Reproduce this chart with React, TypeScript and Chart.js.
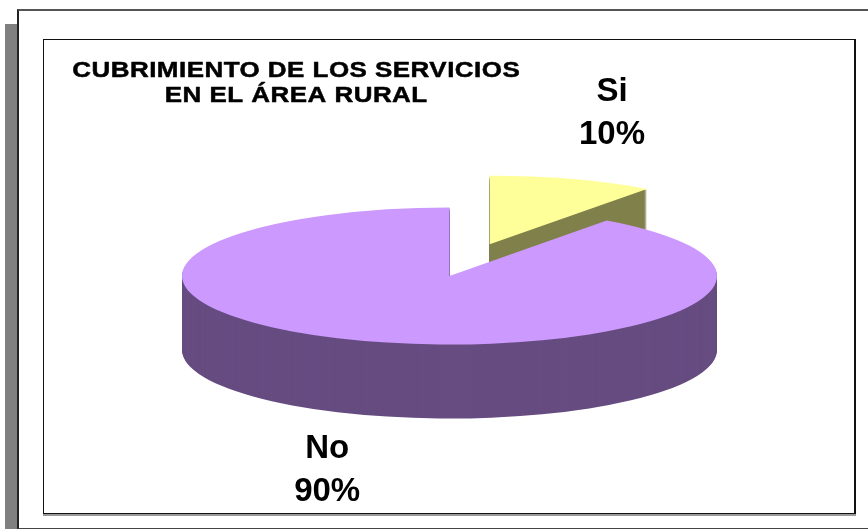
import React, { useEffect, useRef } from 'react';
import { Chart, registerables } from 'chart.js';

Chart.register(...registerables);

// ---- data ----
const categories = ['Si', 'No'];
const values = [10, 90];
const topColors = ['#FFFF99', '#CC99FF'];
const sideColors = ['#80804C', '#664C80'];
const explodeFraction = [0.486, 0];
const titleLines = ['CUBRIMIENTO DE LOS SERVICIOS', 'EN EL ÁREA RURAL'];

// ---- 3D look ----
const TILT = 0.256; // vertical squash of the pie
const DEPTH = 74; // thickness in px
const FONT = 'Arial, "Liberation Sans", Helvetica, sans-serif';

const pie3d = {
  id: 'pie3d',
  beforeDatasetsDraw(chart: any) {
    const ctx: CanvasRenderingContext2D = chart.ctx;
    const meta = chart.getDatasetMeta(0);
    meta.data.forEach((arc: any, i: number) => {
      const { x, y, startAngle, endAngle, outerRadius } = arc.getProps(
        ['x', 'y', 'startAngle', 'endAngle', 'outerRadius'],
        true
      );
      const mid = (startAngle + endAngle) / 2;
      const ex = explodeFraction[i] * outerRadius;
      const cx = x + Math.cos(mid) * ex;
      const cy = y + Math.sin(mid) * ex;
      const drawAt = (d: number, color: string) => {
        ctx.save();
        ctx.translate(0, d + y);
        ctx.scale(1, TILT);
        ctx.translate(0, -y);
        ctx.beginPath();
        ctx.moveTo(cx, cy);
        ctx.arc(cx, cy, outerRadius, startAngle, endAngle);
        ctx.closePath();
        ctx.fillStyle = color;
        ctx.fill();
        ctx.restore();
      };
      for (let d = DEPTH; d > 0; d -= 1) drawAt(d, sideColors[i]);
      drawAt(0, topColors[i]);
    });
    return false;
  },
  afterDraw(chart: any) {
    const ctx: CanvasRenderingContext2D = chart.ctx;
    const meta = chart.getDatasetMeta(0);
    const total = values.reduce((a, b) => a + b, 0);
    ctx.save();
    ctx.fillStyle = '#000';
    ctx.textAlign = 'center';
    ctx.textBaseline = 'alphabetic';
    ctx.font = `bold 33px ${FONT}`;
    meta.data.forEach((arc: any, i: number) => {
      const { x, y, startAngle, endAngle, outerRadius } = arc.getProps(
        ['x', 'y', 'startAngle', 'endAngle', 'outerRadius'],
        true
      );
      const mid = (startAngle + endAngle) / 2;
      const ex = explodeFraction[i] * outerRadius;
      const cx = x + Math.cos(mid) * ex;
      const cy = y + Math.sin(mid) * ex * TILT;
      const s = Math.sin(mid);
      const lower = s > 0;
      const fy = lower ? 1.81 : 2.04;
      const lx = cx + Math.cos(mid) * outerRadius * 1.48;
      const ly = cy + s * outerRadius * TILT * fy + (lower ? DEPTH : 0);
      const pct = Math.round((values[i] / total) * 100) + '%';
      ctx.fillText(categories[i], lx, ly - 10);
      ctx.fillText(pct, lx, ly + 33);
    });
    ctx.restore();

    // title (wide, heavy rendering as in the original)
    ctx.save();
    ctx.fillStyle = '#000';
    ctx.strokeStyle = '#000';
    ctx.lineWidth = 0.5;
    ctx.lineJoin = 'round';
    ctx.font = `bold 22px ${FONT}`;
    (ctx as any).letterSpacing = '0.4px';
    ctx.textAlign = 'left';
    ctx.textBaseline = 'alphabetic';
    const sx = 1.18;
    const tcx = 296;
    titleLines.forEach((line, j) => {
      const w = (ctx.measureText(line).width - 0.4) * sx;
      ctx.save();
      ctx.translate(tcx - w / 2, 77 + j * 25);
      ctx.scale(sx, 1);
      ctx.fillText(line, 0, 0);
      ctx.strokeText(line, 0, 0);
      ctx.restore();
    });
    ctx.restore();
  },
};

export default function App() {
  const ref = useRef<HTMLCanvasElement>(null);
  useEffect(() => {
    if (!ref.current) return;
    const chart = new Chart(ref.current, {
      type: 'pie',
      data: {
        labels: categories,
        datasets: [
          {
            data: values,
            backgroundColor: topColors,
            borderWidth: 0,
            radius: 267.5,
          } as any,
        ],
      },
      options: {
        responsive: false,
        animation: false,
        devicePixelRatio: 1,
        layout: { padding: { left: 31, top: 23, right: 0, bottom: 0 } },
        plugins: {
          legend: { display: false },
          tooltip: { enabled: false },
          title: { display: false },
        },
      },
      plugins: [pie3d],
    });
    return () => chart.destroy();
  }, []);

  return (
    <div style={{ position: 'fixed', left: 0, top: 0, width: 868, height: 529, background: '#fff', overflow: 'hidden' }}>
      <div style={{ position: 'absolute', left: 5, top: 24, width: 13, height: 505, background: '#808080' }} />
      <div
        style={{
          position: 'absolute',
          left: 17,
          top: 9,
          width: 900,
          height: 517,
          borderLeft: '2px solid #222',
          borderTop: '2px solid #555',
          borderBottom: '1px solid #444',
        }}
      />
      <div
        style={{
          position: 'absolute',
          left: 43,
          top: 39,
          width: 810,
          height: 473,
          borderTop: '1px solid #111',
          borderLeft: '1px solid #111',
          borderBottom: '1px solid #111',
          borderRight: '2px solid #111',
          boxShadow: '0 2px 0 #999',
        }}
      />
      <canvas ref={ref} width={868} height={529} style={{ position: 'absolute', left: 0, top: 0, width: 868, height: 529 }} />
    </div>
  );
}
